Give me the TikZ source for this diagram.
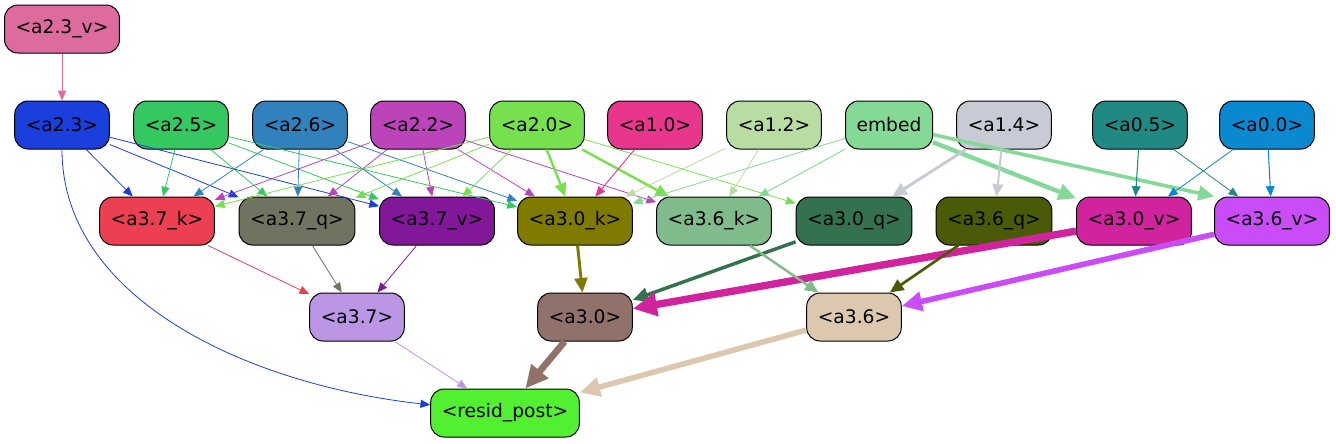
\documentclass[tikz,border=0pt]{standalone}
\usepackage{fontspec}
\setmainfont{DejaVu Sans}
\usetikzlibrary{arrows.meta}

\definecolor{c23v}{HTML}{DD6B9E}
\definecolor{c23}{HTML}{1A3FDC}
\definecolor{c25}{HTML}{36C860}
\definecolor{c26}{HTML}{3181BC}
\definecolor{c22}{HTML}{BB44BB}
\definecolor{c20}{HTML}{76E04E}
\definecolor{c10}{HTML}{E8368C}
\definecolor{c12}{HTML}{B9DCA2}
\definecolor{cemb}{HTML}{85D996}
\definecolor{c14}{HTML}{C8CAD6}
\definecolor{c05}{HTML}{218983}
\definecolor{c00}{HTML}{0A88D0}
\definecolor{c37k}{HTML}{EC3F52}
\definecolor{c37q}{HTML}{707360}
\definecolor{c37v}{HTML}{82179A}
\definecolor{c30k}{HTML}{7F7A00}
\definecolor{c36k}{HTML}{80BB8C}
\definecolor{c30q}{HTML}{34714E}
\definecolor{c36q}{HTML}{4A5A06}
\definecolor{c30v}{HTML}{D1239D}
\definecolor{c36v}{HTML}{C94CF7}
\definecolor{c37}{HTML}{BB96E5}
\definecolor{c30}{HTML}{91726A}
\definecolor{c36}{HTML}{DCC8AE}
\definecolor{cres}{HTML}{52F030}

\begin{document}
\begin{tikzpicture}[x=0.75pt, y=-0.75pt,
    box/.style={draw=black, line width=0.75pt, rounded corners=10pt, minimum height=36pt,
        inner xsep=8.3pt, font=\fontsize{14}{17}\selectfont, fill=#1},
    wire/.style={line width=#1, -{Triangle[length=6pt 2.2, width=4.8pt 2.2]}}]

    \useasboundingbox (0, 0) rectangle (1336, 443);

    % inputs
    \node[box=c23v](a23v) at (62, 29) {<a2.3\_v>};
    \node[box=c23](a23) at (62, 125) {<a2.3>};
    \node[box=c25](a25) at (181, 125) {<a2.5>};
    \node[box=c26](a26) at (300, 125) {<a2.6>};
    \node[box=c22](a22) at (418, 125) {<a2.2>};
    \node[box=c20](a20) at (537, 125) {<a2.0>};
    \node[box=c10](a10) at (655, 125) {<a1.0>};
    \node[box=c12](a12) at (774, 125) {<a1.2>};
    \node[box=cemb](emb) at (889, 125) {embed};
    \node[box=c14](a14) at (1004, 125) {<a1.4>};
    \node[box=c05](a05) at (1140, 125) {<a0.5>};
    \node[box=c00](a00) at (1267, 125) {<a0.0>};

    % k, q, v
    \node[box=c37k](a37k) at (157, 221) {<a3.7\_k>};
    \node[box=c37q](a37q) at (297, 221) {<a3.7\_q>};
    \node[box=c37v](a37v) at (437, 221) {<a3.7\_v>};
    \node[box=c30k](a30k) at (575, 221) {<a3.0\_k>};
    \node[box=c36k](a36k) at (714, 221) {<a3.6\_k>};
    \node[box=c30q](a30q) at (854, 221) {<a3.0\_q>};
    \node[box=c36q](a36q) at (994, 221) {<a3.6\_q>};
    \node[box=c30v](a30v) at (1134, 221) {<a3.0\_v>};
    \node[box=c36v](a36v) at (1272, 221) {<a3.6\_v>};

    % heads
    \node[box=c37](a37) at (357, 317) {<a3.7>};
    \node[box=c30](a30) at (585, 317) {<a3.0>};
    \node[box=c36](a36) at (854, 317) {<a3.6>};
    \node[box=cres](res) at (505, 413) {<resid\_post>};

    \draw[wire=0.6pt, c23v] (a23v) -- (a23);

    \draw[wire=0.6pt, c23] (a23) -- (a37k);
    \draw[wire=0.6pt, c23] (a23) -- (a37q);
    \draw[wire=0.6pt, c23] (a23) -- (a37v);
    \draw[wire=0.6pt, c23] (a23) .. controls (62, 300) and (250, 385) .. (res);

    \draw[wire=0.6pt, c25] (a25) -- (a37k);
    \draw[wire=0.6pt, c25] (a25) -- (a37q);
    \draw[wire=0.6pt, c25] (a25) -- (a37v);
    \draw[wire=0.6pt, c25] (a25) -- (a30k);

    \draw[wire=0.6pt, c26] (a26) -- (a37k);
    \draw[wire=0.6pt, c26] (a26) -- (a37q);
    \draw[wire=0.6pt, c26] (a26) -- (a37v);
    \draw[wire=0.6pt, c26] (a26) -- (a30k);

    \draw[wire=0.6pt, c22] (a22) -- (a37k);
    \draw[wire=0.6pt, c22] (a22) -- (a37q);
    \draw[wire=0.6pt, c22] (a22) -- (a37v);
    \draw[wire=0.6pt, c22] (a22) -- (a30k);
    \draw[wire=0.6pt, c22] (a22) -- (a36k);

    \draw[wire=0.6pt, c20] (a20) -- (a37k);
    \draw[wire=0.6pt, c20] (a20) -- (a37q);
    \draw[wire=0.6pt, c20] (a20) -- (a37v);
    \draw[wire=1.8pt, c20] (a20) -- (a30k);
    \draw[wire=1.8pt, c20] (a20) -- (a36k);
    \draw[wire=0.6pt, c20] (a20) -- (a30q);

    \draw[wire=0.7pt, c10] (a10) -- (a30k);
    \draw[wire=0.6pt, c12] (a12) -- (a30k);
    \draw[wire=0.6pt, c12] (a12) -- (a36k);

    \draw[wire=0.6pt, cemb] (emb) -- (a30k);
    \draw[wire=0.7pt, cemb] (emb) -- (a36k);
    \draw[wire=3.3pt, cemb] (emb) -- (a30v);
    \draw[wire=2.7pt, cemb] (emb) -- (a36v.157);

    \draw[wire=2.2pt, c14] (a14) -- (a30q);
    \draw[wire=1.5pt, c14] (a14) -- (a36q);

    \draw[wire=0.8pt, c05] (a05) -- (a30v);
    \draw[wire=0.6pt, c05] (a05) -- (a36v);
    \draw[wire=0.6pt, c00] (a00) -- (a30v);
    \draw[wire=0.8pt, c00] (a00) -- (a36v);

    \draw[wire=0.6pt, c37k] (a37k) -- (a37);
    \draw[wire=0.6pt, c37q] (a37q) -- (a37);
    \draw[wire=0.6pt, c37v] (a37v) -- (a37);

    \draw[wire=2.2pt, c30k] (a30k) -- (a30);
    \draw[wire=2.6pt, c30q] (a30q) -- (a30);
    \draw[wire=5.5pt, c30v] (a30v) -- (a30);

    \draw[wire=1.8pt, c36k] (a36k) -- (a36);
    \draw[wire=2pt, c36q] (a36q) -- (a36);
    \draw[wire=4.2pt, c36v] (a36v) -- (a36);

    \draw[wire=0.6pt, c37] (a37) -- (res);
    \draw[wire=5pt, c30] (a30) -- (res);
    \draw[wire=4.2pt, c36] (a36) -- (res);

\end{tikzpicture}
\end{document}
